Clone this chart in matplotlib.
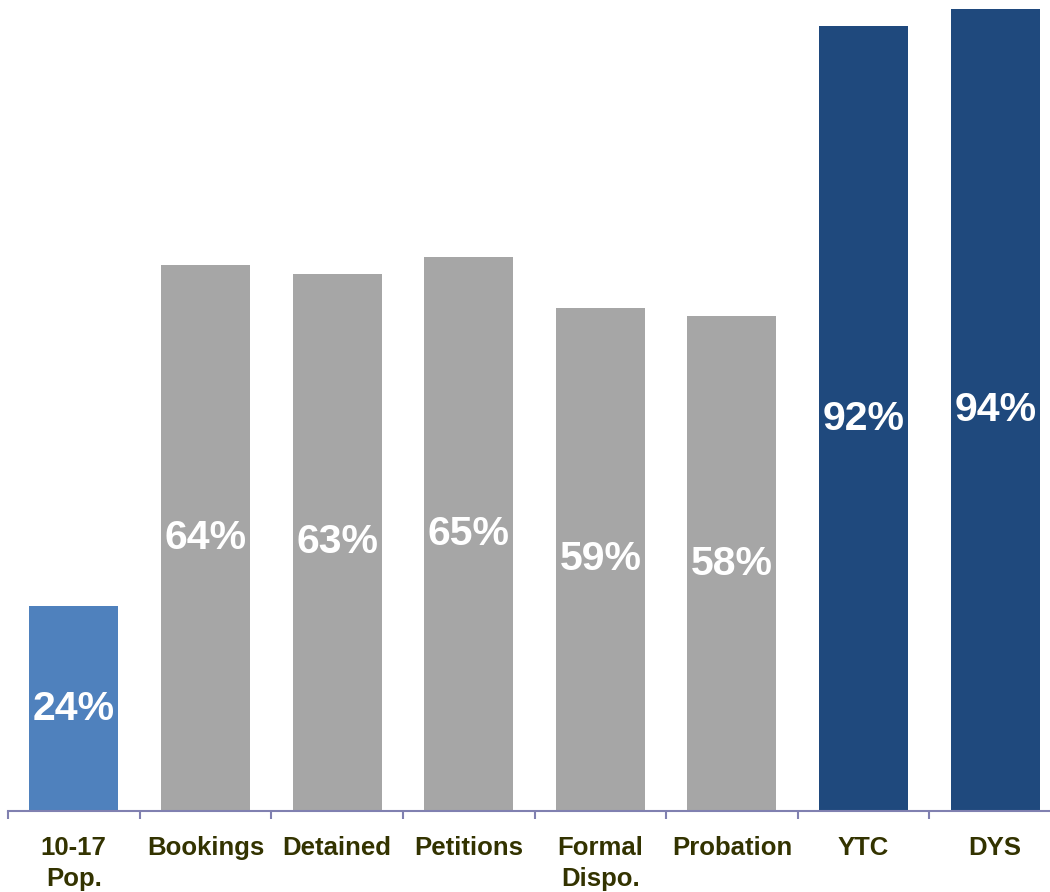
import matplotlib
matplotlib.use("Agg")
import matplotlib.pyplot as plt
import numpy as np

categories = ["10-17\nPop.", "Bookings", "Detained", "Petitions", "Formal\nDispo.",
              "Probation", "YTC", "DYS"]
values = [24, 64, 63, 65, 59, 58, 92, 94]
colors = ["#4F81BD", "#A6A6A6", "#A6A6A6", "#A6A6A6", "#A6A6A6", "#A6A6A6",
          "#1F497D", "#1F497D"]

plt.rcParams["font.family"] = ["Liberation Sans", "DejaVu Sans"]

fig = plt.figure(figsize=(10.5, 8.92), dpi=100)
ax = fig.add_axes([8 / 1050, 81 / 892, 1053 / 1050, 811 / 892])

x = np.arange(len(categories))
bars = ax.bar(x, values, width=0.676, color=colors, zorder=2)

for xi, v in zip(x, values):
    ax.text(xi, v / 2, f"{v}%", ha="center", va="center", color="white",
            fontsize=29.5, fontweight="bold")

ax.set_xlim(-0.5, 7.5)
ax.set_ylim(0, 95.1)

for s in ["top", "right", "left"]:
    ax.spines[s].set_visible(False)
ax.spines["bottom"].set_color("#8080B0")
ax.spines["bottom"].set_linewidth(1.5)

ax.set_yticks([])
ax.set_xticks(x)
ax.set_xticklabels(categories, fontsize=18.5, fontweight="bold", color="#333300",
                   va="top", linespacing=1.35)
ax.tick_params(axis="x", which="major", length=0, pad=18)
ax.set_xticks(np.arange(-0.5, 8.0, 1.0), minor=True)
ax.tick_params(axis="x", which="minor", length=6, width=1.5, color="#8080B0")

fig.savefig("out.png", dpi=100)
